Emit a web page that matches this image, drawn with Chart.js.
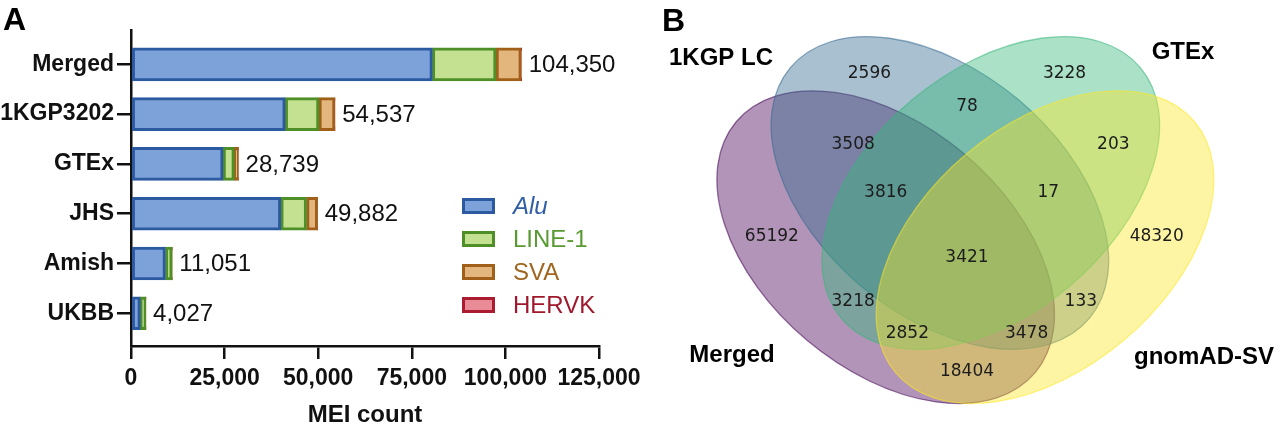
<!DOCTYPE html>
<html>
<head>
<meta charset="utf-8">
<script src="https://cdn.jsdelivr.net/npm/chart.js@4.4.1/dist/chart.umd.min.js"></script>
<style>
  html, body { margin: 0; padding: 0; background: #ffffff; }
  #wrap { position: relative; width: 1280px; height: 426px; overflow: hidden; background: #fff; }
  #cA { position: absolute; left: 0; top: 0; }
  #cB { position: absolute; left: 640px; top: 0; }
</style>
</head>
<body>
<div id="wrap">
  <canvas id="cA" width="680" height="426"></canvas>
  <canvas id="cB" width="640" height="426"></canvas>
</div>
<script>
// ---------- Panel A data ----------
const categories = ['Merged', '1KGP3202', 'GTEx', 'JHS', 'Amish', 'UKBB'];
const meiTypes = ['Alu', 'LINE-1', 'SVA', 'HERVK'];
const aluCounts   = [80500, 41200, 24600, 40000, 9200, 2500];
const line1Counts = [17000,  9000,  3000,  6900, 1800, 1450];
const svaCounts   = [ 6750,  4280,  1100,  2950,   50,   70];
const hervkCounts = [  100,    57,    39,    32,    1,    7];
const totalLabels = ['104,350', '54,537', '28,739', '49,882', '11,051', '4,027'];
const xTicks = [0, 25000, 50000, 75000, 100000, 125000];

// ---------- Panel B data ----------
const setNames = ['Merged', '1KGP LC', 'GTEx', 'gnomAD-SV'];
const vennCounts = [65192, 2596, 3228, 48320, 3508, 78, 203, 3816, 17, 3421, 3218, 133, 2852, 3478, 18404];

// ---------- styles / layout ----------
const fills   = ['#7ca2d9', '#c4e191', '#e3b67d', '#ea8c98'];
const borders = ['#2c5aa0', '#4f8f27', '#a0601a', '#ac1c30'];
const legendText = ['#2f5ea6', '#5a9a33', '#a0661f', '#a0182c'];
const FONT = "'Liberation Sans', Arial, Helvetica, sans-serif";

const vennLabelPos = [[0.14,0.42],[0.32,0.72],[0.68,0.72],[0.85,0.42],[0.29,0.59],[0.50,0.66],[0.77,0.59],
  [0.35,0.50],[0.65,0.50],[0.50,0.38],[0.29,0.30],[0.71,0.30],[0.39,0.24],[0.61,0.24],[0.50,0.17]];
const ellipses = [
  {cx: 0.350, cy: 0.400, w: 0.72, h: 0.45, a: 140, rgb: [68, 1, 84]},
  {cx: 0.450, cy: 0.500, w: 0.72, h: 0.45, a: 140, rgb: [49, 104, 142]},
  {cx: 0.544, cy: 0.500, w: 0.72, h: 0.45, a: 40,  rgb: [53, 183, 121]},
  {cx: 0.644, cy: 0.400, w: 0.72, h: 0.45, a: 40,  rgb: [253, 231, 37]}
];
const namePos = [[92, 355], [81, 58], [543, 52], [564, 357]];

// ---------- Panel A chart ----------
const seriesValues = [aluCounts, line1Counts, svaCounts, hervkCounts];

const panelAPlugin = {
  id: 'panelA',
  afterDatasetsDraw(chart) {
    const ctx = chart.ctx;
    const xs = chart.scales.x, ys = chart.scales.y;
    ctx.save();
    // totals
    ctx.font = '24px ' + FONT;
    ctx.fillStyle = '#111';
    ctx.textAlign = 'left';
    ctx.textBaseline = 'middle';
    categories.forEach((c, k) => {
      let sum = 0;
      seriesValues.forEach(s => sum += s[k]);
      const px = xs.getPixelForValue(sum) + 7;
      const py = ys.getPixelForValue(k) + 1;
      ctx.fillText(totalLabels[k], px, py);
    });
    // legend
    const lx = 462, ly0 = 206, dy = 33;
    meiTypes.forEach((t, i) => {
      const y = ly0 + i * dy;
      ctx.fillStyle = borders[i];
      ctx.fillRect(lx, y - 8, 33, 16);
      ctx.fillStyle = fills[i];
      ctx.fillRect(lx + 3, y - 5, 27, 10);
      ctx.fillStyle = legendText[i];
      ctx.font = (i === 0 ? 'italic ' : '') + '24px ' + FONT;
      ctx.fillText(t, 513, y + 1);
    });
    // panel letter
    ctx.fillStyle = '#000';
    ctx.font = 'bold 32px ' + FONT;
    ctx.fillText('A', 3, 21);
    ctx.restore();
  }
};

new Chart(document.getElementById('cA'), {
  type: 'bar',
  data: {
    datasets: meiTypes.map((t, i) => ({
      label: t,
      data: categories.map((c, k) => ({ x: seriesValues[i][k], y: k })),
      backgroundColor: fills[i],
      borderColor: borders[i],
      borderWidth: 3,
      borderSkipped: false,
      barThickness: 33
    }))
  },
  options: {
    indexAxis: 'y',
    responsive: false,
    animation: false,
    layout: { padding: { top: 30, right: 81, left: 0, bottom: 0 } },
    plugins: { legend: { display: false }, tooltip: { enabled: false } },
    scales: {
      x: {
        type: 'linear', stacked: true, min: 0, max: 125000,
        afterBuildTicks: s => { s.ticks = xTicks.map(v => ({ value: v })); },
        ticks: {
          color: '#111', padding: 6,
          font: { family: FONT, size: 23, weight: 'bold' },
          callback: v => v.toLocaleString('en-US'),
          maxRotation: 0, autoSkip: false
        },
        grid: { drawOnChartArea: false, drawTicks: true, tickLength: 13, color: '#111', lineWidth: 2.5 },
        border: { display: true, color: '#111', width: 2.5 },
        title: { display: true, text: 'MEI count', color: '#111', padding: { top: 0, bottom: -4 },
                 font: { family: FONT, size: 24, weight: 'bold' } },
        afterFit: s => { s.height = 80; }
      },
      y: {
        type: 'linear', stacked: true, reverse: true, min: -0.69, max: 5.657,
        offset: false,
        bounds: 'data',
        afterBuildTicks: s => { s.ticks = categories.map((c, i) => ({ value: i })); },
        ticks: {
          color: '#111', padding: 3,
          font: { family: FONT, size: 23, weight: 'bold' },
          callback: v => categories[v],
          autoSkip: false
        },
        grid: { offset: false, drawOnChartArea: false, drawTicks: true, tickLength: 14, color: '#111', lineWidth: 2.5 },
        border: { display: true, color: '#111', width: 2.5 },
        afterFit: s => { s.width = 131; }
      }
    }
  },
  plugins: [panelAPlugin]
});

// ---------- Panel B chart ----------
const vennPlugin = {
  id: 'venn',
  beforeDatasetsDraw(chart) {
    const ctx = chart.ctx;
    const xs = chart.scales.x, ys = chart.scales.y;
    ctx.save();
    ellipses.forEach(e => {
      const cx = xs.getPixelForValue(e.cx), cy = ys.getPixelForValue(e.cy);
      const rx = xs.getPixelForValue(e.cx + e.w / 2) - cx;
      const ry = cy - ys.getPixelForValue(e.cy + e.h / 2);
      ctx.beginPath();
      ctx.ellipse(cx, cy, rx, ry, -e.a * Math.PI / 180, 0, Math.PI * 2);
      ctx.fillStyle = `rgba(${e.rgb[0]},${e.rgb[1]},${e.rgb[2]},0.42)`;
      ctx.fill();
      ctx.lineWidth = 1.3;
      ctx.strokeStyle = `rgba(${e.rgb[0]},${e.rgb[1]},${e.rgb[2]},0.55)`;
      ctx.stroke();
    });
    ctx.restore();
  },
  afterDatasetsDraw(chart) {
    const ctx = chart.ctx;
    const meta = chart.getDatasetMeta(0);
    ctx.save();
    ctx.textAlign = 'center';
    ctx.textBaseline = 'middle';
    ctx.fillStyle = '#1c1c1c';
    ctx.font = "17px 'DejaVu Sans', sans-serif";
    meta.data.forEach((pt, i) => {
      ctx.fillText(String(vennCounts[i]), pt.x, pt.y);
    });
    ctx.fillStyle = '#000';
    ctx.font = 'bold 24px ' + FONT;
    setNames.forEach((n, i) => {
      ctx.fillText(n, namePos[i][0], namePos[i][1]);
    });
    ctx.textAlign = 'left';
    ctx.font = 'bold 32px ' + FONT;
    ctx.fillText('B', 22, 22);
    ctx.restore();
  }
};

new Chart(document.getElementById('cB'), {
  type: 'scatter',
  data: {
    datasets: [{
      data: vennCounts.map((c, i) => ({ x: vennLabelPos[i][0], y: vennLabelPos[i][1] })),
      pointRadius: 0
    }]
  },
  options: {
    responsive: false,
    animation: false,
    layout: { padding: 0 },
    plugins: { legend: { display: false }, tooltip: { enabled: false } },
    scales: {
      x: { display: false, min: -0.1033, max: 1.0775 },
      y: { display: false, min: 0.0701, max: 0.8561 }
    }
  },
  plugins: [vennPlugin]
});
</script>
</body>
</html>
